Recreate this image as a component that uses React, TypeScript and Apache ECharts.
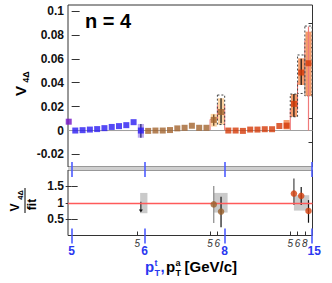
import React, { useEffect, useRef } from 'react';
import * as echarts from 'echarts';

const FONT = '"Liberation Sans", Arial, Helvetica, sans-serif';

// ---- axes (x = pTa bin index, pTt segments concatenated) ----
const X_MIN = -0.5;
const X_MAX = 33.05;
const segTicks = [0, 10, 21, 33];
const segLabels = ['5', '6', '8', '15'];
const paTicks = [9, 19, 20, 30, 31, 32];
const paLabels = ['5', '5', '6', '5', '6', '8'];

const yMajor = [-0.02, 0, 0.02, 0.04, 0.06, 0.08, 0.1];
const yMinor = [-0.01, 0.01, 0.03, 0.05, 0.07, 0.09];
const rMajor = [0.5, 1, 1.5];

// ---- top panel data: V_4Δ ----
const purpleX = [-0.4];
const purpleV = [0.0074];
const blueX = [0.5, 1.5, 2.5, 3.5, 4.5, 5.5, 6.5, 7.5, 8.5, 9.5];
const blueV = [0, 0.0003, 0.0008, 0.0012, 0.002, 0.003, 0.0037, 0.0045, 0.007, 0];
const brownX = [10.5, 11.5, 12.5, 13.5, 14.5, 15.5, 16.5, 17.5, 18.5, 19.5, 20.5];
const brownV = [-0.0003, 0, 0, 0.0004, 0.0018, 0.0023, 0.004, 0.0023, 0.0023, 0.0089, 0.0155];
const redX = [21.5, 22.5, 23.5, 24.5, 25.5, 26.5, 27.5, 28.5, 29.5, 30.5, 31.5, 32.5];
const redV = [0, 0, -0.0003, 0.0008, 0.0008, 0.0011, 0.0011, 0.0038, 0.0041, 0.0223, 0.0485, 0.0563];

// systematic boxes
const sysX = [9.5, 19.5, 20.5, 29.5, 30.5, 31.5, 32.5];
const sysLo = [-0.006, 0.0033, 0.005, 0.001, 0.0115, 0.0381, 0.0289];
const sysHi = [0.0055, 0.0139, 0.027, 0.0088, 0.0305, 0.0604, 0.0827];
const sysColor = ['#b9a8f2', '#fcd3a2', '#fcd3a2', '#f49c6a', '#f49c6a', '#f49c6a', '#f49c6a'];

// alternative systematics (dotted outlines)
const altX = [20.5, 30.5, 31.5, 32.5];
const altLo = [0.005, 0.0115, 0.031, 0.0289];
const altHi = [0.0297, 0.0305, 0.0632, 0.0874];

// statistical error bars
const errX = [9.5, 19.5, 20.5, 30.5, 31.5, 32.5];
const errLo = [-0.006, 0.004, 0.006, 0.0115, 0.038, 0];
const errHi = [0.0055, 0.0135, 0.027, 0.0305, 0.06, 0.087];
const errColor = ['#20206a', '#5a3a1a', '#111111', '#111111', '#111111', '#f07a7a'];

// fit histogram (per bin, null = not drawn)
const fitVals: (number | null)[] = [
  0, 0, 0, 0, 0, 0, 0, 0, 0, 0,
  null, null, null, null, null, null, null, null, null, 0.0093, 0.021,
  null, null, null, null, null, null, null, null, null, 0.0174, 0.04, 0.075,
];

// ---- bottom panel data: V_4Δ / fit ----
const ratioX = [19.5, 20.5, 30.5, 31.5, 32.5];
const ratioV = [0.95, 0.73, 1.28, 1.21, 0.75];
const ratioLo = [0.38, 0.25, 0.93, 0.93, 0.39];
const ratioHi = [1.51, 1.18, 1.74, 1.48, 1.08];
const ratioColor = ['#9a602a', '#9a602a', '#d5400e', '#d5400e', '#d5400e'];
const ratioErrColor = ['#888888', '#111111', '#444444', '#111111', '#111111'];
const ratioSysX0 = [9.4, 19.5, 30.5];
const ratioSysX1 = [10.4, 21.4, 32.6];
const ratioSysLo = [0.68, 0.7, 0.76];
const ratioSysHi = [1.3, 1.3, 1.23];
const arrowX = [9.5];
const arrowFrom = [1.03];
const arrowTo = [0.7];

const BLUE_TICK = '#4d5cff';
const BLUE_LABEL = '#2a38f0';

export default function App() {
  const ref = useRef<HTMLDivElement>(null);

  useEffect(() => {
    if (!ref.current) return;
    const chart = echarts.init(ref.current, null, { renderer: 'svg' });

    // fit segments table
    const fitSegs: number[][] = [];
    for (let i = 0; i < fitVals.length; i++) {
      const f = fitVals[i];
      if (f === null) continue;
      const prev = i > 0 && fitVals[i - 1] !== null ? (fitVals[i - 1] as number) : 0;
      if (prev !== f) fitSegs.push([i, prev, i, f]);
      fitSegs.push([i, f, i + 1, f]);
      const next = i + 1 < fitVals.length ? fitVals[i + 1] : undefined;
      if (next === null && f !== 0) fitSegs.push([i + 1, f, i + 1, 0]);
    }

    const boxRender = (hw: number, colors: string[] | null) => (params: any, api: any) => {
      const x = api.value(0);
      const lo = api.value(1);
      const hi = api.value(2);
      const a = api.coord([x - hw, hi]);
      const b = api.coord([x + hw, lo]);
      return {
        type: 'rect',
        shape: { x: a[0], y: a[1], width: b[0] - a[0], height: b[1] - a[1] },
        style: colors
          ? { fill: colors[params.dataIndex], stroke: null }
          : { fill: 'none', stroke: '#444', lineWidth: 1, lineDash: [2, 2] },
      };
    };

    const errRender = (colors: string[], width: number) => (params: any, api: any) => {
      const x = api.value(0);
      const a = api.coord([x, api.value(1)]);
      const b = api.coord([x, api.value(2)]);
      return {
        type: 'line',
        shape: { x1: a[0], y1: a[1], x2: b[0], y2: b[1] },
        style: { stroke: colors[params.dataIndex], lineWidth: width },
      };
    };

    const txt = (text: string, x: number, y: number, font: string, fill: string, rot = 0, align = 'left') => ({
      type: 'text',
      x,
      y,
      rotation: rot,
      z: 20,
      style: { text, font, fill, align, verticalAlign: 'middle' },
    });

    const xBase = {
      type: 'value',
      min: X_MIN,
      max: X_MAX,
      splitLine: { show: false },
      axisLine: { show: false },
      z: 6,
    };
    const blueTick = { color: BLUE_TICK, width: 1.6 };
    const yLabel = { fontFamily: FONT, fontWeight: 'bold', fontSize: 12, color: '#111', margin: 4 };

    const option: any = {
      animation: false,
      backgroundColor: '#fff',
      grid: [
        { left: 68, top: 5, width: 244.5, height: 162, show: true, borderColor: '#333', borderWidth: 1 },
        { left: 68, top: 170, width: 244.5, height: 65.5, show: true, borderColor: '#333', borderWidth: 1 },
      ],
      xAxis: [
        { ...xBase, gridIndex: 0, axisTick: { show: false }, axisLabel: { show: false } },
        {
          ...xBase,
          gridIndex: 1,
          position: 'bottom',
          axisTick: { show: true, inside: false, length: 8, customValues: segTicks, lineStyle: blueTick },
          axisLabel: {
            show: true,
            customValues: segTicks,
            showMinLabel: true,
            showMaxLabel: true,
            formatter: (v: number) => {
              const i = segTicks.indexOf(v);
              if (i < 0) return '';
              return i === segTicks.length - 1 ? `{r|${segLabels[i]}}` : segLabels[i];
            },
            rich: {
              r: { padding: [0, 0, 0, 4], color: BLUE_LABEL, fontWeight: 'bold', fontSize: 12, fontFamily: FONT },
            },
            color: BLUE_LABEL,
            fontWeight: 'bold',
            fontSize: 12,
            fontFamily: FONT,
            margin: 9,
          },
        },
        {
          ...xBase,
          gridIndex: 1,
          position: 'bottom',
          axisTick: { show: true, inside: true, length: 7, customValues: segTicks, lineStyle: blueTick },
          axisLabel: { show: false },
        },
        {
          ...xBase,
          gridIndex: 1,
          position: 'top',
          axisTick: { show: true, inside: true, length: 7, customValues: segTicks, lineStyle: blueTick },
          axisLabel: { show: false },
        },
        {
          ...xBase,
          gridIndex: 1,
          position: 'top',
          axisTick: { show: true, inside: false, length: 8, customValues: segTicks, lineStyle: blueTick },
          axisLabel: { show: false },
        },
        {
          ...xBase,
          gridIndex: 1,
          position: 'bottom',
          axisTick: { show: true, inside: true, length: 4, customValues: paTicks, lineStyle: { color: '#333', width: 1 } },
          axisLabel: {
            show: true,
            customValues: paTicks,
            formatter: (v: number) => paLabels[paTicks.indexOf(v)] ?? '',
            color: '#333',
            fontStyle: 'italic',
            fontSize: 10,
            fontFamily: FONT,
            margin: 2.5,
          },
        },
      ],
      yAxis: [
        {
          type: 'value', gridIndex: 0, min: -0.0305, max: 0.105,
          splitLine: { show: false }, axisLine: { show: false },
          axisTick: { show: true, inside: true, length: 8, customValues: yMajor, lineStyle: { color: '#333' } },
          axisLabel: { show: true, customValues: yMajor, ...yLabel },
        },
        {
          type: 'value', gridIndex: 0, min: -0.0305, max: 0.105,
          splitLine: { show: false }, axisLine: { show: false },
          axisTick: { show: true, inside: true, length: 4, customValues: yMinor, lineStyle: { color: '#333' } },
          axisLabel: { show: false },
        },
        {
          type: 'value', gridIndex: 1, min: 0, max: 2,
          splitLine: { show: false }, axisLine: { show: false },
          axisTick: { show: true, inside: true, length: 6, customValues: rMajor, lineStyle: { color: '#333' } },
          axisLabel: { show: true, customValues: rMajor, ...yLabel },
        },
        {
          type: 'value', gridIndex: 1, min: 0, max: 2, position: 'right',
          splitLine: { show: false }, axisLine: { show: false },
          axisTick: { show: true, inside: true, length: 6, customValues: rMajor, lineStyle: { color: '#333' } },
          axisLabel: { show: false },
        },
      ],
      series: [
        // zero line
        {
          type: 'scatter', xAxisIndex: 0, yAxisIndex: 0, data: [], z: 1, silent: true,
          markLine: {
            silent: true, symbol: 'none', label: { show: false },
            lineStyle: { color: '#a0a0a0', width: 1, type: 'solid' },
            data: [{ yAxis: 0 }],
          },
        },
        // fit histogram
        {
          type: 'custom', xAxisIndex: 0, yAxisIndex: 0, z: 2, silent: true,
          data: fitSegs,
          renderItem: (params: any, api: any) => {
            const a = api.coord([api.value(0), api.value(1)]);
            const b = api.coord([api.value(2), api.value(3)]);
            return {
              type: 'line',
              shape: { x1: a[0], y1: a[1], x2: b[0], y2: b[1] },
              style: { stroke: '#ee6a6a', lineWidth: 1 },
            };
          },
        },
        // systematic boxes
        {
          type: 'custom', xAxisIndex: 0, yAxisIndex: 0, z: 3, silent: true,
          data: sysX.map((x, i) => [x, sysLo[i], sysHi[i]]),
          renderItem: boxRender(0.42, sysColor),
        },
        // alternative systematics (dotted)
        {
          type: 'custom', xAxisIndex: 0, yAxisIndex: 0, z: 4, silent: true,
          data: altX.map((x, i) => [x, altLo[i], altHi[i]]),
          renderItem: boxRender(0.5, null),
        },
        // stat error bars
        {
          type: 'custom', xAxisIndex: 0, yAxisIndex: 0, z: 5, silent: true,
          data: errX.map((x, i) => [x, errLo[i], errHi[i]]),
          renderItem: errRender(errColor, 1.2),
        },
        {
          type: 'scatter', xAxisIndex: 0, yAxisIndex: 0, z: 6, symbol: 'rect', symbolSize: 6,
          itemStyle: { color: '#7412c6' }, data: purpleX.map((x, i) => [x, purpleV[i]]),
        },
        {
          type: 'scatter', xAxisIndex: 0, yAxisIndex: 0, z: 6, symbol: 'rect', symbolSize: 6,
          itemStyle: { color: '#2b1cf2' }, data: blueX.map((x, i) => [x, blueV[i]]),
        },
        {
          type: 'scatter', xAxisIndex: 0, yAxisIndex: 0, z: 6, symbol: 'rect', symbolSize: 6,
          itemStyle: { color: '#a2642e' }, data: brownX.map((x, i) => [x, brownV[i]]),
        },
        {
          type: 'scatter', xAxisIndex: 0, yAxisIndex: 0, z: 6, symbol: 'rect', symbolSize: 6,
          itemStyle: { color: '#d43a08' }, data: redX.map((x, i) => [x, redV[i]]),
        },
        // ---- ratio panel ----
        {
          type: 'custom', xAxisIndex: 1, yAxisIndex: 2, z: 2, silent: true,
          data: ratioSysX0.map((x, i) => [x, ratioSysX1[i], ratioSysLo[i], ratioSysHi[i]]),
          renderItem: (params: any, api: any) => {
            const a = api.coord([api.value(0), api.value(3)]);
            const b = api.coord([api.value(1), api.value(2)]);
            return {
              type: 'rect',
              shape: { x: a[0], y: a[1], width: b[0] - a[0], height: b[1] - a[1] },
              style: { fill: '#cacaca' },
            };
          },
        },
        {
          type: 'scatter', xAxisIndex: 1, yAxisIndex: 2, data: [], z: 3, silent: true,
          markLine: {
            silent: true, symbol: 'none', label: { show: false },
            lineStyle: { color: '#ff5a5a', width: 1.3, type: 'solid', opacity: 1 },
            data: [{ yAxis: 1 }],
          },
        },
        {
          type: 'custom', xAxisIndex: 1, yAxisIndex: 2, z: 4, silent: true,
          data: ratioX.map((x, i) => [x, ratioLo[i], ratioHi[i]]),
          renderItem: errRender(ratioErrColor, 1.2),
        },
        {
          type: 'custom', xAxisIndex: 1, yAxisIndex: 2, z: 4, silent: true,
          data: arrowX.map((x, i) => [x, arrowFrom[i], arrowTo[i]]),
          renderItem: (params: any, api: any) => {
            const a = api.coord([api.value(0), api.value(1)]);
            const b = api.coord([api.value(0), api.value(2)]);
            return {
              type: 'group',
              children: [
                { type: 'line', shape: { x1: a[0], y1: a[1], x2: b[0], y2: b[1] - 2 }, style: { stroke: '#111', lineWidth: 1 } },
                {
                  type: 'polygon',
                  shape: { points: [[b[0] - 2, b[1] - 3], [b[0] + 2, b[1] - 3], [b[0], b[1]]] },
                  style: { fill: '#111' },
                },
              ],
            };
          },
        },
        {
          type: 'scatter', xAxisIndex: 1, yAxisIndex: 2, z: 5, symbol: 'circle', symbolSize: 6.5,
          data: ratioX.map((x, i) => ({ value: [x, ratioV[i]], itemStyle: { color: ratioColor[i] } })),
        },
      ],
      graphic: [
        { type: 'rect', z: 1, shape: { x: 68, y: 167, width: 244.5, height: 3 }, style: { fill: '#cfcfcf' } },
        txt('n = 4', 85, 21, `bold 20px ${FONT}`, '#000'),
        // y title top
        txt('V', 20, 91, `bold 15px ${FONT}`, '#000', Math.PI / 2, 'center'),
        txt('4Δ', 25.5, 77, `bold 9px ${FONT}`, '#000', Math.PI / 2, 'center'),
        // y title bottom (fraction)
        txt('V', 14.5, 207.5, `bold 12px ${FONT}`, '#000', Math.PI / 2, 'center'),
        txt('4Δ', 20.5, 195, `bold 7.5px ${FONT}`, '#000', Math.PI / 2, 'center'),
        { type: 'line', z: 20, shape: { x1: 25, y1: 188, x2: 25, y2: 213 }, style: { stroke: '#000', lineWidth: 1 } },
        txt('fit', 32, 204.5, `bold 12px ${FONT}`, '#000', Math.PI / 2, 'center'),
        // x title
        txt('p', 145, 266.5, `bold 15px ${FONT}`, BLUE_LABEL),
        txt('t', 154.5, 263.3, `bold 9px ${FONT}`, BLUE_LABEL),
        txt('T', 154.5, 272.7, `bold 9px ${FONT}`, BLUE_LABEL),
        txt(',', 160.5, 266.5, `bold 15px ${FONT}`, BLUE_LABEL),
        txt('p', 166, 266.5, `bold 15px ${FONT}`, '#000'),
        txt('a', 175.5, 263.3, `bold 9px ${FONT}`, '#000'),
        txt('T', 175.5, 272.7, `bold 9px ${FONT}`, '#000'),
        txt('[GeV/c]', 184.5, 266.5, `bold 15px ${FONT}`, '#000'),
      ],
    };

    chart.setOption(option);
    return () => chart.dispose();
  }, []);

  return (
    <div
      ref={ref}
      style={{ position: 'fixed', left: 0, top: 0, width: 332, height: 283, background: '#fff' }}
    />
  );
}
